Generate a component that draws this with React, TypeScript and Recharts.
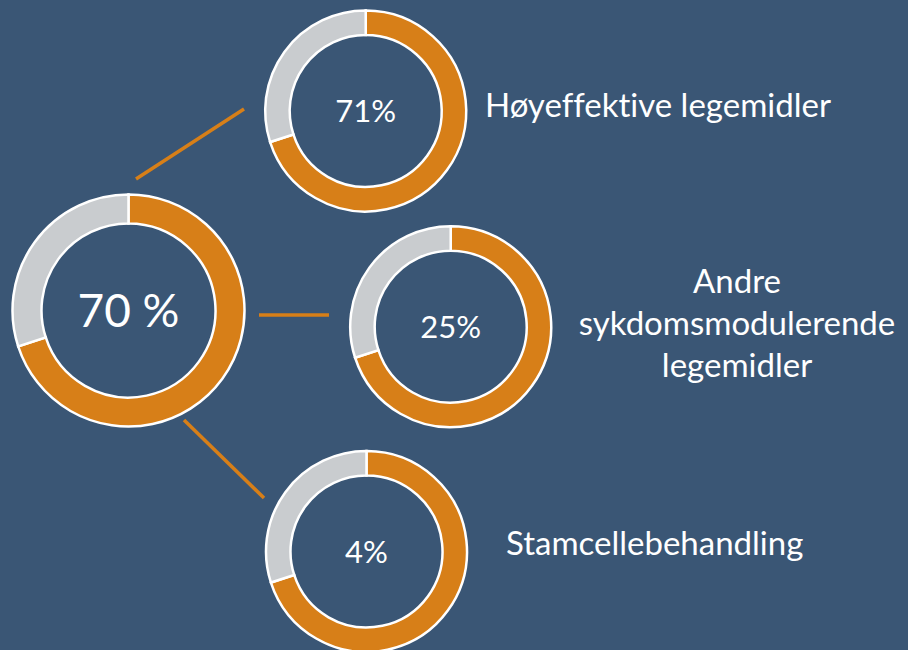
import React from "react";
import { PieChart, Pie, Cell, Customized } from "recharts";

// Data
const centerLabels = ["70 %", "71%", "25%", "4%"];
const ringFilled = [70, 70, 70, 70]; // orange share drawn in each ring
const categoryLabels = [
  "",
  "Høyeffektive legemidler",
  "Andre\nsykdomsmodulerende\nlegemidler",
  "Stamcellebehandling",
];

// Layout / style
const W = 908;
const H = 650;
const BG = "#3A5675";
const ORANGE = "#D77F18";
const GREY = "#C9CCCF";
const FONT = "Lato, 'Open Sans', sans-serif";

const rings = [
  { cx: 128.5, cy: 310.5, outer: 116, inner: 87, numSize: 46 },
  { cx: 365.7, cy: 111, outer: 100.5, inner: 76, numSize: 31 },
  { cx: 450.7, cy: 326.7, outer: 100.5, inner: 76, numSize: 31 },
  { cx: 366.5, cy: 551.5, outer: 100.5, inner: 76, numSize: 31 },
];

const textPos = [
  null,
  { x: 485, y: 117, anchor: "start" },
  { x: 737, y: 293, anchor: "middle" },
  { x: 506, y: 555, anchor: "start" },
];

const connectors = [
  [136, 179, 244, 109],
  [259, 315, 329, 315],
  [184, 420, 264, 498],
];

const noLig = { fontVariantLigatures: "none", fontFeatureSettings: '"liga" 0, "clig" 0' } as any;

const Overlay = () => (
  <g>
    {connectors.map((c, i) => (
      <line
        key={"c" + i}
        x1={c[0]}
        y1={c[1]}
        x2={c[2]}
        y2={c[3]}
        stroke={ORANGE}
        strokeWidth={3.5}
      />
    ))}
    {rings.map((r, i) => (
      <text
        key={"n" + i}
        x={r.cx}
        y={r.cy}
        dy="0.36em"
        textAnchor="middle"
        fill="#FFFFFF"
        fontFamily={FONT}
        fontSize={r.numSize}
        style={noLig}
      >
        {centerLabels[i]}
      </text>
    ))}
    {categoryLabels.map((lab, i) => {
      const p = textPos[i];
      if (!p || !lab) return null;
      return (
        <text
          key={"t" + i}
          x={p.x}
          y={p.y}
          textAnchor={p.anchor as any}
          fill="#FFFFFF"
          fontFamily={FONT}
          fontSize={33}
          style={noLig}
        >
          {lab.split("\n").map((ln, j) => (
            <tspan key={j} x={p.x} dy={j === 0 ? 0 : 42}>
              {ln}
            </tspan>
          ))}
        </text>
      );
    })}
  </g>
);

export default function App() {
  return (
    <div
      style={{
        position: "absolute",
        left: 0,
        top: 0,
        width: W,
        height: H,
        background: BG,
      }}
    >
      <PieChart width={W} height={H} margin={{ top: 0, right: 0, bottom: 0, left: 0 }}>
        {rings.map((r, i) => (
          <Pie
            key={i}
            data={[
              { name: "filled", value: ringFilled[i] },
              { name: "rest", value: 100 - ringFilled[i] },
            ]}
            dataKey="value"
            cx={r.cx}
            cy={r.cy}
            innerRadius={r.inner}
            outerRadius={r.outer}
            startAngle={90}
            endAngle={-270}
            stroke="#FFFFFF"
            strokeWidth={2.5}
            isAnimationActive={false}
          >
            <Cell fill={ORANGE} />
            <Cell fill={GREY} />
          </Pie>
        ))}
        <Customized component={Overlay} />
      </PieChart>
    </div>
  );
}
